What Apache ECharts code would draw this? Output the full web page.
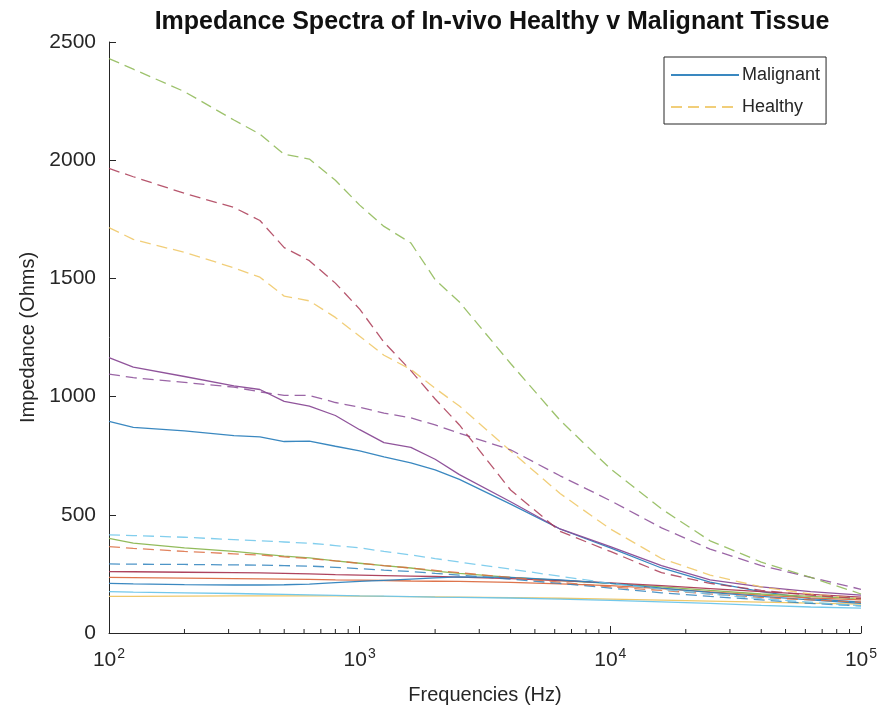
<!DOCTYPE html>
<html>
<head>
<meta charset="utf-8">
<script src="https://cdn.jsdelivr.net/npm/echarts@6/dist/echarts.min.js"></script>
<style>html,body{margin:0;padding:0;background:#fff}#c{width:886px;height:719px}</style>
</head>
<body>
<div id="c"></div>
<script>
// Frequencies (Hz)
const freqs = [100,125,200,315,400,500,630,800,1000,1250,1600,2000,2500,4000,6300,10000,16000,25000,40000,63000,100000];
const minorTickFreqs = [200,300,400,500,600,700,800,900,2000,3000,4000,5000,6000,7000,8000,9000,20000,30000,40000,50000,60000,70000,80000,90000];
const yTicks = [0,500,1000,1500,2000,2500];

// Malignant (solid)
const malBlue    = [895,870,855,835,830,810,812,790,770,745,720,690,650,545,440,360,275,215,175,145,130];
const malOrange  = [235,234,232,230,229,228,227,225,224,222,220,219,218,214,208,200,188,174,160,149,140];
const malYellow  = [155,155,156,157,157,157,157,157,156,155,154,153,152,150,147,143,139,135,131,126,122];
const malPurple  = [1165,1125,1085,1045,1030,980,960,920,860,805,785,735,670,555,440,365,285,225,195,175,160];
const malGreen   = [400,380,360,345,335,325,318,305,295,285,275,262,252,235,222,210,195,180,165,155,145];
const malLBlue   = [175,173,170,167,165,163,161,159,157,156,154,152,151,148,143,138,132,125,117,110,105];
const malRed     = [260,259,257,255,254,252,250,247,245,243,241,239,236,230,222,212,200,188,175,163,152];
const malBlue2   = [210,208,205,203,203,204,207,213,218,223,228,233,237,235,225,210,190,172,155,140,125];

// Healthy (dashed)
const hBlue      = [292,291,290,288,287,285,283,278,272,266,260,252,245,228,210,190,170,155,140,125,115];
const hOrange    = [365,358,345,335,330,322,315,305,295,285,275,265,255,235,215,195,180,165,150,140,130];
const hYellow    = [1715,1665,1610,1545,1505,1425,1405,1335,1255,1175,1115,1035,960,770,590,440,315,245,195,165,145];
const hPurple    = [1095,1080,1060,1040,1020,1005,1005,975,955,930,910,880,845,775,665,560,445,355,285,235,185];
const hGreen     = [2430,2385,2290,2170,2110,2025,2005,1915,1810,1720,1650,1495,1400,1140,900,695,525,390,300,235,165];
const hLBlue     = [415,412,405,395,390,385,380,370,360,345,330,315,300,270,240,210,185,165,145,130,115];
const hRed       = [1965,1930,1860,1800,1745,1630,1575,1480,1370,1230,1110,990,880,605,430,345,255,210,180,160,145];

const C = {blue:'#2f82bd', orange:'#dc6d42', yellow:'#eec562', purple:'#8a4b96', green:'#8cb752', lblue:'#6cc5ea', red:'#aa3a55'};
const FONT = 'Liberation Sans, Arial, sans-serif';

function pts(v){ return freqs.map((f,i)=>[f, v[i]]); }
function ser(name, v, color, dashed){
  return {
    name, type:'line', data: pts(v), symbol:'none', showSymbol:false, smooth:false,
    lineStyle:{color, width:1.3, type: dashed ? [11,6] : 'solid', opacity: dashed ? 0.85 : 0.95},
    itemStyle:{color}, emphasis:{disabled:true}, z: 2
  };
}

const series = [
  ser('Malignant', malBlue, C.blue, false),
  ser('Malignant 2', malOrange, C.orange, false),
  ser('Malignant 3', malYellow, C.yellow, false),
  ser('Malignant 4', malPurple, C.purple, false),
  ser('Malignant 5', malGreen, C.green, false),
  ser('Malignant 6', malLBlue, C.lblue, false),
  ser('Malignant 7', malRed, C.red, false),
  ser('Malignant 8', malBlue2, C.blue, false),
  ser('Healthy 1', hBlue, C.blue, true),
  ser('Healthy 2', hOrange, C.orange, true),
  ser('Healthy', hYellow, C.yellow, true),
  ser('Healthy 4', hPurple, C.purple, true),
  ser('Healthy 5', hGreen, C.green, true),
  ser('Healthy 6', hLBlue, C.lblue, true),
  ser('Healthy 7', hRed, C.red, true),
  {
    name:'minorTicks', type:'custom', silent:true, z:5,
    data: minorTickFreqs.map(f=>[f,0]),
    encode:{x:0, y:1},
    renderItem:function(params, api){
      const p = api.coord([api.value(0), 0]);
      return {type:'line', shape:{x1:p[0], y1:p[1], x2:p[0], y2:p[1]-4}, style:{stroke:'#262626', lineWidth:1}};
    }
  }
];

const chart = echarts.init(document.getElementById('c'), null, {renderer:'canvas'});
chart.setOption({
  backgroundColor:'#fff',
  animation:false,
  title:{
    text:'Impedance Spectra of In-vivo Healthy v Malignant Tissue',
    left:487, top:5, textAlign:'center',
    textStyle:{fontFamily:FONT, fontWeight:'bold', fontSize:25, color:'#111'}
  },
  legend:{
    data:['Malignant','Healthy'],
    orient:'vertical', left:664, top:57,
    padding:[9,6,8,6], itemGap:14,
    itemWidth:68, itemHeight:14,
    backgroundColor:'#fff', borderColor:'#262626', borderWidth:1,
    itemStyle:{opacity:0},
    textStyle:{fontFamily:FONT, fontSize:18, color:'#262626', padding:[0,0,0,-2]},
    selectedMode:false
  },
  grid:{left:109, right:25, top:42, bottom:86, containLabel:false},
  xAxis:{
    type:'log', logBase:10, min:100, max:100000,
    name:'Frequencies (Hz)', nameLocation:'middle', nameGap:52,
    nameTextStyle:{fontFamily:FONT, fontSize:20, color:'#262626'},
    axisLine:{show:true, onZero:false, lineStyle:{color:'#262626', width:1}},
    axisTick:{show:true, inside:true, length:7, lineStyle:{color:'#262626'}},
    splitLine:{show:false},
    axisLabel:{
      margin:14, color:'#262626',
      formatter:function(v){ return '{b|10}{s|' + Math.round(Math.log10(v)) + '}'; },
      rich:{
        b:{fontFamily:FONT, fontSize:21, color:'#262626'},
        s:{fontFamily:FONT, fontSize:14, color:'#262626', verticalAlign:'bottom', padding:[0,0,12,1]}
      }
    }
  },
  yAxis:{
    type:'value', min:yTicks[0], max:yTicks[yTicks.length-1], interval:500,
    name:'Impedance (Ohms)', nameLocation:'middle', nameGap:70, nameRotate:90,
    nameTextStyle:{fontFamily:FONT, fontSize:20, color:'#262626'},
    axisLine:{show:true, lineStyle:{color:'#262626', width:1}},
    axisTick:{show:true, inside:true, length:7, lineStyle:{color:'#262626'}},
    splitLine:{show:false},
    axisLabel:{margin:13, fontFamily:FONT, fontSize:21, color:'#262626', formatter:function(v){return String(v);}}
  },
  series
});
</script>
</body>
</html>
